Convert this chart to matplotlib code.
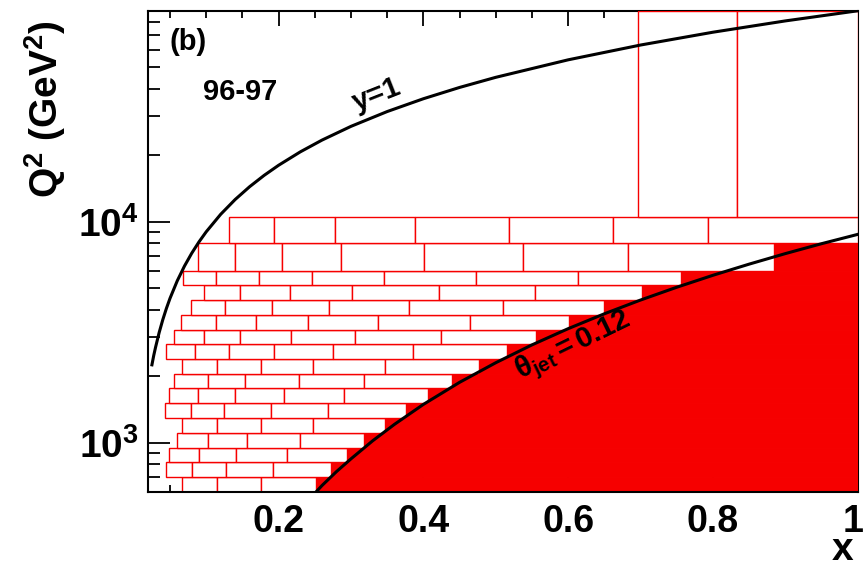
import numpy as np
import matplotlib
matplotlib.use("Agg")
import matplotlib.pyplot as plt
import matplotlib.transforms as mtransforms
from matplotlib.patches import Rectangle
from matplotlib.ticker import FixedLocator, MultipleLocator, LogLocator, NullFormatter, FuncFormatter

plt.rcParams['font.family'] = ['Liberation Sans', 'DejaVu Sans']
plt.rcParams['mathtext.fontset'] = 'custom'
plt.rcParams['mathtext.rm'] = 'Liberation Sans'
plt.rcParams['mathtext.it'] = 'Liberation Sans:italic'
plt.rcParams['mathtext.bf'] = 'Liberation Sans:bold'

# Q2 rows of the binning (GeV^2), bottom to top
q2_rows = [600, 700, 815, 950, 1110, 1290, 1510, 1760, 2050, 2390, 2785,
           3250, 3785, 4410, 5145, 6000, 8000, 10500]

# x bin edges for each Q2 row; the last edge is where the excluded region starts
x_bins = [
    [0.067, 0.115, 0.176, 0.251],
    [0.045, 0.081, 0.128, 0.192, 0.272],
    [0.049, 0.090, 0.141, 0.211, 0.294],
    [0.060, 0.102, 0.156, 0.230, 0.318],
    [0.067, 0.115, 0.176, 0.248, 0.347],
    [0.043, 0.079, 0.124, 0.190, 0.268, 0.376],
    [0.049, 0.088, 0.140, 0.208, 0.291, 0.407],
    [0.056, 0.102, 0.153, 0.228, 0.318, 0.440],
    [0.067, 0.115, 0.176, 0.247, 0.347, 0.477],
    [0.045, 0.084, 0.131, 0.194, 0.275, 0.385, 0.515],
    [0.055, 0.097, 0.147, 0.217, 0.305, 0.424, 0.556],
    [0.065, 0.113, 0.169, 0.241, 0.338, 0.464, 0.601],
    [0.079, 0.126, 0.191, 0.270, 0.380, 0.510, 0.650],
    [0.097, 0.147, 0.216, 0.301, 0.421, 0.554, 0.702],
    [0.068, 0.113, 0.173, 0.246, 0.345, 0.473, 0.613, 0.756],
    [0.088, 0.140, 0.205, 0.286, 0.401, 0.538, 0.683, 0.884],
    [0.131, 0.194, 0.278, 0.388, 0.518, 0.662, 0.793, 1.000],
]

# highest Q2 bins
x_top = [0.696, 0.833, 1.000]
q2_top = [10500, 90000]

# kinematic limit y=1
x_y1 = [0.025, 0.0275, 0.03, 0.035, 0.04, 0.045, 0.05, 0.06, 0.07, 0.08,
        0.09, 0.1, 0.12, 0.14, 0.16, 0.18, 0.2, 0.23, 0.26, 0.3, 0.35, 0.4,
        0.45, 0.5, 0.6, 0.7, 0.8, 0.9, 1.0]
q2_y1 = [2250, 2480, 2700, 3150, 3600, 4050, 4500, 5400, 6300, 7200,
         8100, 9000, 10800, 12600, 14400, 16200, 18000, 20700, 23400, 27000,
         31500, 36000, 40500, 45000, 54000, 63000, 72000, 81000, 90000]

# jet angle cut theta_jet = 0.12
x_th = [0.25, 0.26, 0.28, 0.30, 0.33, 0.36, 0.40, 0.45, 0.50, 0.55, 0.60,
        0.65, 0.70, 0.75, 0.80, 0.85, 0.90, 0.95, 1.00]
q2_th = [590, 640, 740, 845, 1020, 1210, 1490, 1875, 2300, 2770, 3280,
         3830, 4420, 5050, 5720, 6425, 7170, 7950, 8760]

xmin, xmax = 0.02, 1.0
ymin, ymax = 600, 90000
red = '#f60000'

fig = plt.figure(figsize=(8.66, 5.70), dpi=100)
ax = fig.add_axes([148.3/866, 1-491.7/570, 709.4/866, 480.9/570])
ax.set_yscale('log')
ax.set_xlim(xmin, xmax)
ax.set_ylim(ymin, ymax)

for i, edges in enumerate(x_bins):
    lo, hi = q2_rows[i], q2_rows[i+1]
    for x0, x1 in zip(edges[:-1], edges[1:]):
        ax.add_patch(Rectangle((x0, lo), x1-x0, hi-lo, facecolor='white',
                               edgecolor=red, lw=1.0, zorder=2))
    if edges[-1] < xmax:
        ax.add_patch(Rectangle((edges[-1], lo), xmax-edges[-1], hi-lo,
                               facecolor=red, edgecolor=red, lw=0.6, zorder=1.8))

for x0, x1 in zip(x_top[:-1], x_top[1:]):
    ax.add_patch(Rectangle((x0, q2_top[0]), x1-x0, q2_top[1]-q2_top[0],
                           facecolor='white', edgecolor=red, lw=1.0, zorder=2))

ax.plot(x_y1, q2_y1, color='black', lw=2.2, zorder=3)
ax.plot(x_th, q2_th, color='black', lw=2.2, zorder=3)

# axes and ticks
for side in ['left', 'bottom']:
    ax.spines[side].set_zorder(4)
    ax.spines[side].set_linewidth(1.5)
for side in ['top', 'right']:
    ax.spines[side].set_zorder(1)
    ax.spines[side].set_linewidth(1.5)

ax.xaxis.set_major_locator(FixedLocator([0.2, 0.4, 0.6, 0.8, 1.0]))
ax.set_xticklabels(['0.2', '0.4', '0.6', '0.8', '1'], fontsize=27, fontweight='bold')
ax.xaxis.set_minor_locator(MultipleLocator(0.05))

ax.yaxis.set_major_locator(LogLocator(base=10))
ax.yaxis.set_minor_locator(LogLocator(base=10, subs=np.arange(2, 10)))
ax.yaxis.set_major_formatter(FuncFormatter(lambda v, p: r'$\mathbf{10^{%d}}$' % round(np.log10(v))))
ax.yaxis.set_minor_formatter(NullFormatter())

ax.tick_params(axis='x', which='both', direction='in', top=True, bottom=True,
               pad=9, width=1.3)
ax.tick_params(axis='x', which='major', length=11)
ax.tick_params(axis='x', which='minor', length=5)
ax.tick_params(axis='y', which='both', direction='in', left=True, right=False,
               labelsize=28, pad=7, width=1.3)
ax.tick_params(axis='y', which='major', length=16)
ax.tick_params(axis='y', which='minor', length=8.5)

# the "1" label sits at the figure edge, nudge it inwards a little
last = ax.get_xticklabels()[-1]
last.set_transform(last.get_transform() +
                   mtransforms.ScaledTranslation(-3/72, 0, fig.dpi_scale_trans))

# labels
ax.text(0.030, 0.935, '(b)', transform=ax.transAxes, fontsize=21,
        fontweight='bold', ha='left', va='center')
ax.text(0.077, 0.831, '96-97', transform=ax.transAxes, fontsize=21,
        fontweight='bold', ha='left', va='center')
ax.text(0.336, 37400, 'y=1', fontsize=21, fontweight='bold', rotation=21.5,
        ha='center', va='center', rotation_mode='anchor', zorder=5)
ax.text(0.607, 2740, r'$\mathbf{\theta_{jet}{=}0.12}$', fontsize=21,
        rotation=26, ha='center', va='center', rotation_mode='anchor', zorder=5)

fig.text(45/866, 1-109/570, r'$\mathbf{Q^{2}\ (GeV^{2})}$', fontsize=28,
         rotation=90, ha='center', va='center')
fig.text(843/866, 1-560/570, 'x', fontsize=28, fontweight='bold',
         ha='center', va='baseline')

fig.savefig('out.png', dpi=100)
